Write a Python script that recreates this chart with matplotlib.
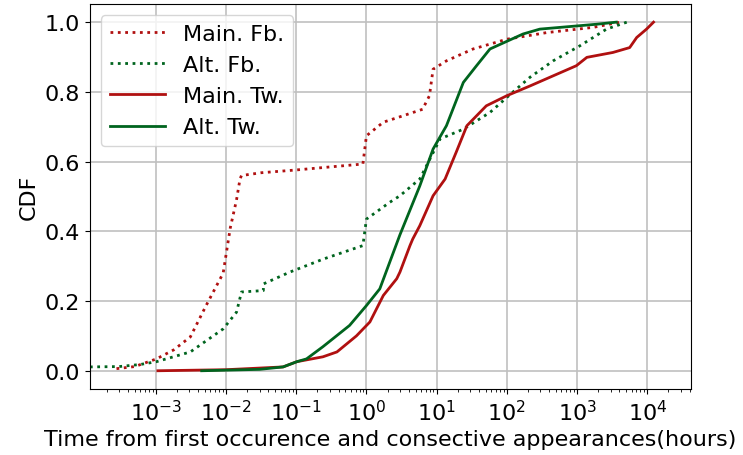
import matplotlib
matplotlib.use("Agg")
import matplotlib.pyplot as plt

# Main. Fb. (hours, CDF)
main_fb_x = [2.75e-4, 5.0e-4, 1.02e-3, 1.8e-3, 3.1e-3, 5.2e-3, 9.1e-3, 0.0115, 0.0141, 0.0158,
             0.0166, 0.0316, 0.1, 0.316, 0.89, 1.0, 1.74, 3.16, 6.3, 7.9, 8.9, 13.8, 33, 100,
             370, 1700, 4100]
main_fb_y = [0.006, 0.012, 0.034, 0.06, 0.097, 0.187, 0.28, 0.41, 0.49, 0.55,
             0.56, 0.568, 0.576, 0.585, 0.593, 0.674, 0.713, 0.73, 0.75, 0.789, 0.865, 0.889, 0.923, 0.951,
             0.97, 0.985, 1.0]

# Alt. Fb.
alt_fb_x = [1.15e-4, 3e-4, 6e-4, 1.02e-3, 3.1e-3, 9.1e-3, 0.0141, 0.0166, 0.034, 0.034, 0.081,
            0.24, 0.89, 1.0, 2.14, 3.0, 5.75, 11.2, 24, 57.5, 123, 214, 457, 1096, 2630, 5130]
alt_fb_y = [0.011, 0.012, 0.018, 0.026, 0.054, 0.12, 0.168, 0.226, 0.23, 0.249, 0.283,
            0.32, 0.359, 0.435, 0.483, 0.502, 0.55, 0.665, 0.693, 0.741, 0.80, 0.842, 0.889, 0.932, 0.98, 1.0]

# Main. Tw.
main_tw_x = [1.07e-3, 0.01, 0.065, 0.102, 0.24, 0.38, 0.72, 1.12, 1.74, 2.7, 3.0, 4.17, 4.57,
             5.75, 8.9, 13.2, 19, 27, 51, 100, 214, 457, 977, 1380, 3240, 5620, 7080, 9770, 12300]
main_tw_y = [0.0, 0.003, 0.011, 0.026, 0.04, 0.054, 0.10, 0.14, 0.216, 0.264, 0.283, 0.359, 0.378,
             0.416, 0.502, 0.55, 0.627, 0.703, 0.76, 0.789, 0.817, 0.846, 0.875, 0.899, 0.913, 0.927, 0.956, 0.98, 1.0]

# Alt. Tw.
alt_tw_x = [4.5e-3, 0.03, 0.065, 0.102, 0.14, 0.24, 0.575, 1.0, 1.55, 3.0, 5.75, 8.9, 13.8,
            24, 37, 57.5, 170, 295, 1900, 3630]
alt_tw_y = [0.0, 0.004, 0.011, 0.026, 0.034, 0.069, 0.13, 0.187, 0.235, 0.39, 0.53, 0.636, 0.703,
            0.827, 0.875, 0.923, 0.966, 0.98, 0.994, 1.0]

labels = ["Main. Fb.", "Alt. Fb.", "Main. Tw.", "Alt. Tw."]
red = "#b01010"
green = "#00641e"

plt.rcParams['font.family'] = ['DejaVu Sans']
plt.rcParams['font.size'] = 16

fig = plt.figure(figsize=(7.43, 4.56), dpi=100)
ax = fig.add_axes([0.121, 0.145, 0.809, 0.844])

ax.plot(main_fb_x, main_fb_y, ':', color=red, lw=2, label=labels[0])
ax.plot(alt_fb_x, alt_fb_y, ':', color=green, lw=2, label=labels[1])
ax.plot(main_tw_x, main_tw_y, '-', color=red, lw=2, label=labels[2])
ax.plot(alt_tw_x, alt_tw_y, '-', color=green, lw=2, label=labels[3])

ax.set_xscale('log')
ax.set_xlim(1.15e-4, 4.2e4)
ax.set_ylim(-0.052, 1.052)
ax.set_xticks([1e-3, 1e-2, 1e-1, 1e0, 1e1, 1e2, 1e3, 1e4])
ax.set_yticks([0.0, 0.2, 0.4, 0.6, 0.8, 1.0])
ax.grid(True, color='#c0c0c0', lw=1.2)
ax.set_axisbelow(True)
ax.tick_params(labelsize=16)
ax.set_xlabel("Time from first occurence and consective appearances(hours)", fontsize=16)
ax.set_ylabel("CDF", fontsize=16)
ax.legend(loc='upper left', fontsize=16, handlelength=2.5)

fig.savefig("out.png", dpi=100)
